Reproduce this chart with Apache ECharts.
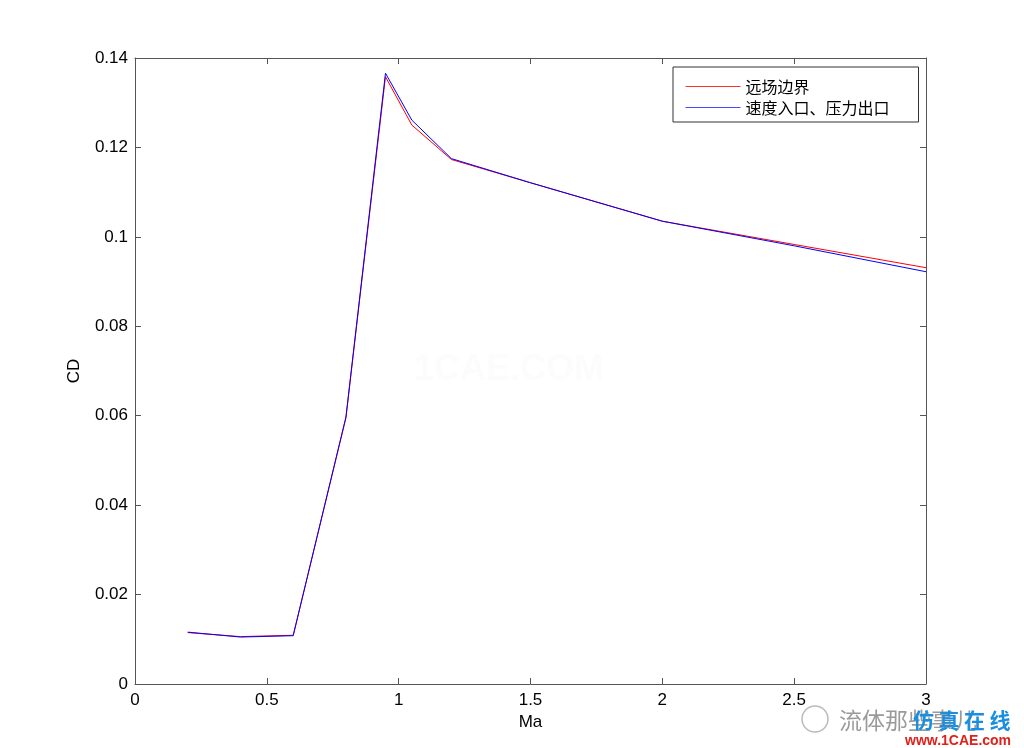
<!DOCTYPE html>
<html>
<head>
<meta charset="utf-8">
<script src="https://cdn.jsdelivr.net/npm/echarts@6/dist/echarts.min.js"></script>
<style>
html,body{margin:0;padding:0;background:#fff;}
#chart{width:1024px;height:748px;}
</style>
</head>
<body>
<div id="chart"></div>
<script>
var seriesNames = ['远场边界', '速度入口、压力出口'];
var seriesColors = ['#ff0000', '#0000ff'];
var legendLineColors = ['#ff3030', '#4848ff'];
var machNumbers = [0.2, 0.4, 0.6, 0.8, 0.95, 1.05, 1.2, 1.5, 2.0, 2.5, 3.0];
var farFieldCD = [0.0115, 0.0106, 0.0109, 0.0595, 0.1358, 0.1250, 0.1173, 0.1121, 0.1035, 0.0983, 0.0931];
var velocityInletCD = [0.0116, 0.0105, 0.0108, 0.0597, 0.1366, 0.1261, 0.1175, 0.1121, 0.1035, 0.0980, 0.0922];
var xTicks = [0, 0.5, 1, 1.5, 2, 2.5, 3];
var yTicks = [0, 0.02, 0.04, 0.06, 0.08, 0.1, 0.12, 0.14];

function pairs(xs, ys) { return xs.map(function (x, i) { return [x, ys[i]]; }); }

var chart = echarts.init(document.getElementById('chart'));
var labelFont = { color: '#000', fontSize: 17, fontFamily: 'Liberation Sans, Arial, sans-serif' };
var axisLineStyle = { color: '#555', width: 1 };

var wmChars = ['仿', '真', '在', '线'];
var wmGraphics = wmChars.map(function (c, i) {
  return { type: 'text', left: 913 + i * 25.5, top: 710, silent: true,
    style: { text: c, fill: '#1a8fe0', font: 'bold 21px Noto Sans CJK SC' } };
});

chart.setOption({
  backgroundColor: '#fff',
  animation: false,
  grid: { left: 135, right: 98, top: 58, bottom: 64, show: false },
  legend: {
    orient: 'vertical',
    left: 673, top: 67,
    backgroundColor: '#fff',
    borderColor: '#333', borderWidth: 1,
    padding: [11, 6, 6, 12],
    itemGap: 4,
    itemWidth: 55, itemHeight: 14,
    itemStyle: { opacity: 0 },
    lineStyle: { width: 1 },
    textStyle: { color: '#000', fontSize: 16, lineHeight: 17, width: 167, fontFamily: 'Noto Sans CJK SC' },
    data: seriesNames.map(function (n, i) {
      return { name: n, lineStyle: { color: legendLineColors[i], width: 1 } };
    })
  },
  xAxis: [{
    type: 'value', min: 0, max: 3, interval: 0.5, position: 'bottom',
    name: 'Ma', nameLocation: 'middle', nameGap: 30,
    nameTextStyle: labelFont,
    axisLine: { show: true, onZero: false, lineStyle: axisLineStyle },
    axisTick: { show: true, inside: true, length: 6, lineStyle: axisLineStyle },
    axisLabel: Object.assign({ margin: 8, formatter: function (v) { return String(v); } }, labelFont),
    splitLine: { show: false }
  }, {
    type: 'value', min: 0, max: 3, interval: 0.5, position: 'top',
    axisLine: { show: true, onZero: false, lineStyle: axisLineStyle },
    axisTick: { show: true, inside: true, length: 6, lineStyle: axisLineStyle },
    axisLabel: { show: false },
    splitLine: { show: false }
  }],
  yAxis: [{
    type: 'value', min: 0, max: 0.14, interval: 0.02, position: 'left',
    name: 'CD', nameLocation: 'middle', nameGap: 52, nameRotate: 90,
    nameTextStyle: labelFont,
    axisLine: { show: true, onZero: false, lineStyle: axisLineStyle },
    axisTick: { show: true, inside: true, length: 6, lineStyle: axisLineStyle },
    axisLabel: Object.assign({ margin: 7, formatter: function (v) { return String(+v.toFixed(2)); } }, labelFont),
    splitLine: { show: false }
  }, {
    type: 'value', min: 0, max: 0.14, interval: 0.02, position: 'right',
    axisLine: { show: true, onZero: false, lineStyle: axisLineStyle },
    axisTick: { show: true, inside: true, length: 6, lineStyle: axisLineStyle },
    axisLabel: { show: false },
    splitLine: { show: false }
  }],
  graphic: [
    { type: 'text', left: 414, top: 352, silent: true, z: -1,
      style: { text: '1CAE.COM', fill: '#fcfcfc', shadowColor: 'rgba(0,0,0,0.18)', shadowBlur: 4, shadowOffsetX: 1, shadowOffsetY: 1, font: 'bold 36px Liberation Sans' } },
    { type: 'circle', shape: { cx: 815, cy: 719, r: 13 }, silent: true,
      style: { fill: 'none', stroke: '#bbb', lineWidth: 1.5 } },
    { type: 'text', left: 839, top: 709, silent: true,
      style: { text: '流体那些事儿', fill: '#9a9a9a', font: '23px Noto Sans CJK SC' } }
  ].concat(wmGraphics).concat([
    { type: 'text', left: 905, top: 734, silent: true,
      style: { text: 'www.1CAE.com', fill: '#e0201a', font: 'bold 14px Liberation Sans' } }
  ]),
  series: [{
    name: seriesNames[0], type: 'line', xAxisIndex: 0, yAxisIndex: 0,
    data: pairs(machNumbers, farFieldCD),
    showSymbol: false, symbol: 'none', smooth: false,
    lineStyle: { color: seriesColors[0], width: 1 }, itemStyle: { color: seriesColors[0] }
  }, {
    name: seriesNames[1], type: 'line', xAxisIndex: 0, yAxisIndex: 0,
    data: pairs(machNumbers, velocityInletCD),
    showSymbol: false, symbol: 'none', smooth: false,
    lineStyle: { color: seriesColors[1], width: 1 }, itemStyle: { color: seriesColors[1] }
  }]
});
</script>
</body>
</html>
